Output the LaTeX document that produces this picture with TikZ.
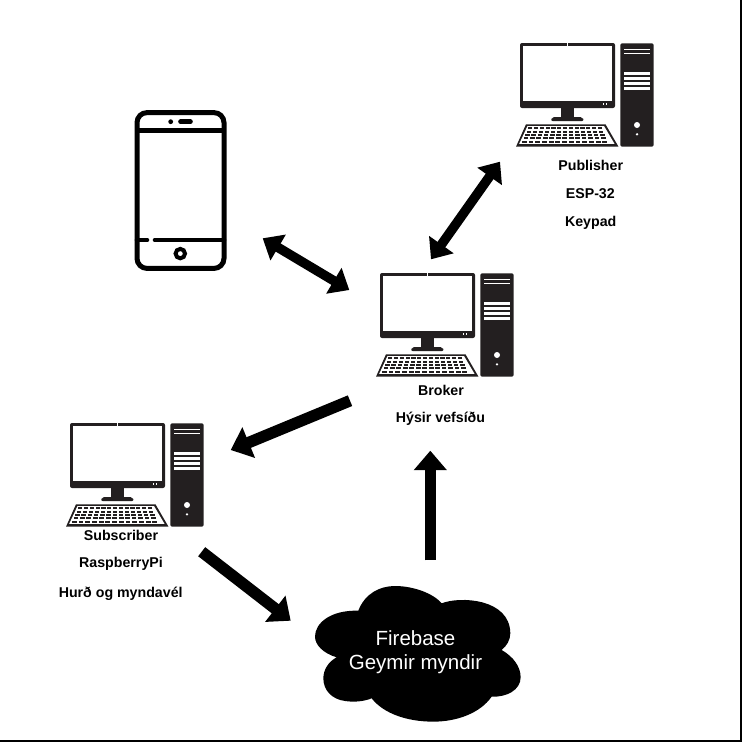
\documentclass[tikz,border=0pt]{standalone}
\usepackage{fontspec}
\setmainfont{Liberation Sans}
\usetikzlibrary{arrows.meta}
\definecolor{pcdark}{HTML}{231F20}
\tikzset{
  fatboth/.style={line width=9.5pt,{Triangle[width=29pt,length=18pt]}-{Triangle[width=29pt,length=18pt]}},
  fatone/.style={line width=11.5pt,-{Triangle[width=32pt,length=19.5pt]}},
  caption/.style={font=\fontsize{14.2}{16}\selectfont\bfseries,inner sep=0pt,text=black,anchor=center},
  cloudtext/.style={font=\fontsize{20.5}{24}\selectfont,text=white,align=center,inner sep=0pt},
  pics/computer/.style={code={
    % monitor
    \fill[pcdark,rounded corners=2pt] (20,13) rectangle (115,78);
    \fill[white] (22.7,15.7) rectangle (112.3,70.7);
    \fill[white] (67,13) rectangle (67.8,15.7);
    \fill[white] (102.5,73.2) rectangle (104,75);
    \fill[white] (105.5,73.2) rectangle (107,75);
    % stand
    \fill[pcdark] (60.7,78) rectangle (74,88);
    \fill[pcdark,rounded corners=2pt] (50.7,91) -- (52,87) -- (82.5,87) -- (84,91) -- cycle;
    % keyboard
    \fill[pcdark] (16,116.7) -- (26,94.3) -- (105.5,94.3) -- (118.5,116.7) -- cycle;
    \fill[white] (19,114.3) -- (27.5,96) -- (104,96) -- (114.8,114.3) -- cycle;
    \fill[pcdark] (19,114.5) -- (115,114.5) -- (115,113.5) -- (19,113.5) -- cycle;
    \foreach \r in {0,...,4}{
      \pgfmathsetmacro{\ya}{97.3+\r*3.3}
      \pgfmathsetmacro{\yb}{\ya+2.1}
      \pgfmathsetmacro{\xl}{28.3-\r*1.6}
      \pgfmathsetmacro{\xw}{(75.2+\r*3.0)/13}
      \foreach \c in {0,...,12}{
        \fill[pcdark] ({\xl+\c*\xw},\ya) rectangle ({\xl+\c*\xw+\xw*0.72},\yb);
      }
    }
    % tower
    \fill[pcdark,rounded corners=1.5pt] (120.3,13.3) rectangle (153.7,116.7);
    \fill[white] (123.7,19) rectangle (150.3,20);
    \fill[white] (123.7,22.7) rectangle (150.3,24.4);
    \fill[white] (123.7,42.3) rectangle (150.3,45);
    \fill[white] (123.7,47.3) rectangle (150.3,50);
    \fill[white] (123.7,52.3) rectangle (150.3,55);
    \fill[white] (123.7,57.3) rectangle (150.3,59.5);
    \fill[white] (137,95) circle[radius=3pt];
    \fill[white] (137,104.3) circle[radius=1.3pt];
  }}
}
\begin{document}
\begin{tikzpicture}[x=1pt,y=-1pt]
\useasboundingbox (0,0) rectangle (742,742);
\fill[white] (0,0) rectangle (742,742);
\draw[line width=1.6pt] (0,741) -- (741,741) -- (741,0);

% computers
\pic (pub) at (500,30) {computer};
\pic (bro) at (360,260) {computer};
\pic (sub) at (50,410) {computer};

% phone
\draw[line width=5pt,rounded corners=10pt] (137,112.6) rectangle (224,268.4);
\draw[line width=4.6pt] (137,130.7) -- (224,130.7);
\fill (170.7,121.7) circle[radius=2.4pt];
\draw[line width=4.6pt,line cap=round] (180.5,121.7) -- (190.5,121.7);
\draw[line width=4.6pt,line cap=round] (137,240) -- (147,240);
\draw[line width=4.6pt,line cap=round] (155,240) -- (224,240);
\draw[line width=4pt] (180.3,253.6) circle[radius=4.7pt];

% cloud
\begin{scope}[shift={(300,570)},x=0.3333pt,y=-0.3333pt]
\fill (175,122) .. controls (195,70) and (240,48) .. (285,48)
  .. controls (340,48) and (400,70) .. (425,100)
  .. controls (480,78) and (630,85) .. (631,190)
  .. controls (631,210) and (620,228) .. (605,240)
  .. controls (640,260) and (662,290) .. (662,322)
  .. controls (662,360) and (620,382) .. (575,380)
  .. controls (540,430) and (470,455) .. (400,455)
  .. controls (320,455) and (250,430) .. (215,385)
  .. controls (190,395) and (160,397) .. (135,393)
  .. controls (95,388) and (70,360) .. (70,325)
  .. controls (70,300) and (85,275) .. (110,262)
  .. controls (70,250) and (45,225) .. (45,200)
  .. controls (45,160) and (90,120) .. (175,122) -- cycle;
\end{scope}
\node[cloudtext] (fire) at (415.5,652.5) {Firebase\\Geymir myndir};

% labels
\node[caption] (l1) at (590.7,165) {Publisher};
\node[caption] (l2) at (590.3,194) {ESP-32};
\node[caption] (l3) at (590.7,223) {Keypad};
\node[caption] (l4) at (441,390) {Broker};
\node[caption] (l5) at (440.5,419) {Hýsir vefsíðu};
\node[caption] (l6) at (121,535) {Subscriber};
\node[caption] (l7) at (121,564) {RaspberryPi};
\node[caption] (l8) at (120.7,593.5) {Hurð og myndavél};

% connector ends
\coordinate (ph) at (262.7,238.3);
\coordinate (br1) at (349.3,290);
\coordinate (pb) at (500,161.7);
\coordinate (br2) at (431,259.3);
\coordinate (br3) at (350,400.7);
\coordinate (sb1) at (230.7,450);
\coordinate (sb2) at (201.7,551.7);
\coordinate (cl1) at (290.7,620.7);
\coordinate (cl2) at (430.3,560.3);
\coordinate (br4) at (430.3,450.7);

\draw[fatboth] (ph) -- (br1);
\draw[fatboth] (pb) -- (br2);
\draw[fatone] (br3) -- (sb1);
\draw[fatone] (sb2) -- (cl1);
\draw[fatone] (cl2) -- (br4);
\end{tikzpicture}
\end{document}
